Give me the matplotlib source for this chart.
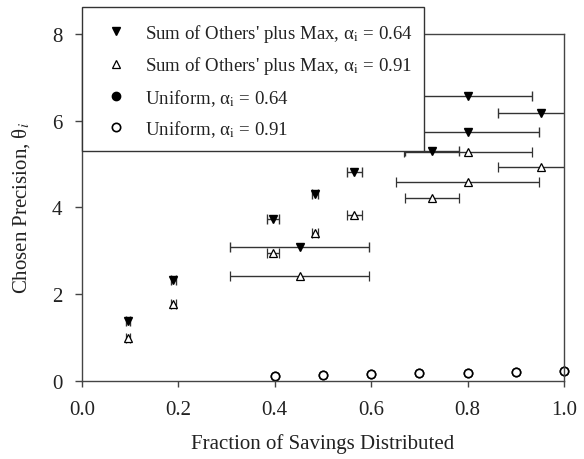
import numpy as np
import matplotlib as mpl
mpl.use('Agg')
import matplotlib.pyplot as plt
from matplotlib.patches import Rectangle

plt.rcParams['font.family'] = ['Liberation Serif', 'DejaVu Serif']
plt.rcParams['mathtext.fontset'] = 'stix'
plt.rcParams['font.size'] = 15

#%%
# data
frac_som = np.array([0.095, 0.19, 0.397, 0.452, 0.483, 0.565, 0.727, 0.80, 0.801, 0.952])
frac_err = np.array([0.004, 0.005, 0.012, 0.144, 0.006, 0.015, 0.056, 0.148, 0.133, 0.09])
theta_som_64 = np.array([1.37, 2.33, 3.73, 3.09, 4.31, 4.81, 5.31, 5.75, 6.56, 6.17])
theta_som_91 = np.array([0.98, 1.77, 2.94, 2.41, 3.40, 3.83, 4.22, 4.59, 5.27, 4.92])

frac_uni = np.array([0.4, 0.5, 0.6, 0.7, 0.8, 0.9, 1.0])
theta_uni_64 = np.array([0.12, 0.14, 0.15, 0.17, 0.19, 0.21, 0.23])
theta_uni_91 = np.array([0.12, 0.14, 0.15, 0.17, 0.19, 0.21, 0.23])

labels = [r"Sum of Others' plus Max, α$_{\mathrm{i}}$ = 0.64",
          r"Sum of Others' plus Max, α$_{\mathrm{i}}$ = 0.91",
          r"Uniform, α$_{\mathrm{i}}$ = 0.64",
          r"Uniform, α$_{\mathrm{i}}$ = 0.91"]

#%%
fig = plt.figure(figsize=(5.84, 4.6), dpi=100)
ax = fig.add_axes([0.140, 0.170, 0.826, 0.754])

ebc = '#333333'
e1 = ax.errorbar(frac_som, theta_som_64, xerr=frac_err, fmt='v', color='black', ms=6,
                 ecolor=ebc, elinewidth=1, capsize=3.5)
e2 = ax.errorbar(frac_som, theta_som_91, xerr=frac_err, fmt='^', color='black', mfc='white',
                 mew=0.9, ms=6, ecolor=ebc, elinewidth=1, capsize=3.5)
p3, = ax.plot(frac_uni, theta_uni_64, 'o', color='black', ms=6, clip_on=False)
p4, = ax.plot(frac_uni, theta_uni_91, 'o', color='black', mfc='white', mew=1.2, ms=6,
              clip_on=False)

ax.set_xlim(0, 1)
ax.set_ylim(0, 8)
ax.set_xticks(np.arange(0, 1.01, 0.2))
ax.set_xticklabels(['0.0', '0.2', '0.4', '0.6', '0.8', '1.0'])
ax.set_yticks([0, 2, 4, 6, 8])
ax.tick_params(axis='x', direction='out', length=4, width=1, color='#444444',
               labelcolor='#222222', pad=10)
ax.tick_params(axis='y', direction='out', length=5, width=1, color='#444444',
               labelcolor='#222222', pad=9)
for s in ax.spines.values():
    s.set_color('#444444')
    s.set_linewidth(1)

ax.set_xlabel('Fraction of Savings Distributed', color='#222222', labelpad=10)
ax.set_ylabel(r'Chosen Precision, θ$_i$', color='#222222', labelpad=14)

# legend box drawn over the top-left corner of the plot
box = Rectangle((82 / 584, 1 - 152 / 460), (424 - 82) / 584, (152 - 8) / 460,
                transform=fig.transFigure, facecolor='white', edgecolor='#333333',
                linewidth=1, zorder=5)
fig.patches.append(box)

handles = [e1.lines[0], e2.lines[0], p3, p4]
leg = fig.legend(handles, labels, loc='upper left', bbox_to_anchor=(102 / 584, 0.950),
                 frameon=False, handlelength=1.5, handletextpad=0.8,
                 borderpad=0, labelspacing=0.55, borderaxespad=0, fontsize=13.6,
                 labelcolor='#222222')
leg.set_zorder(6)

plt.savefig('out.png', dpi=100)
